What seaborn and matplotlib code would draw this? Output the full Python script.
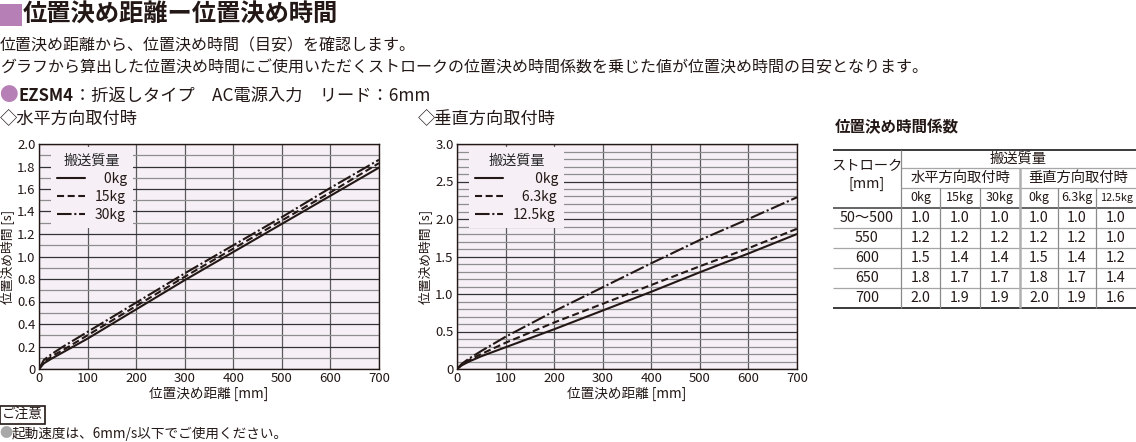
import matplotlib
matplotlib.use('Agg')
import matplotlib.pyplot as plt
from matplotlib.patches import Rectangle
from matplotlib.ticker import MultipleLocator, FuncFormatter
import seaborn as sns
import pandas as pd

# positioning distance [mm]
distance = [0, 10, 25, 50, 100, 200, 300, 400, 500, 600, 700]

# horizontal mounting, positioning time [s]
horiz_labels = ['0kg', '15kg', '30kg']
horiz_0kg = [0, 0.05, 0.09, 0.15, 0.27, 0.53, 0.79, 1.04, 1.29, 1.54, 1.79]
horiz_15kg = [0, 0.06, 0.11, 0.17, 0.30, 0.56, 0.82, 1.07, 1.32, 1.57, 1.83]
horiz_30kg = [0, 0.08, 0.13, 0.20, 0.33, 0.59, 0.85, 1.10, 1.35, 1.61, 1.86]

# vertical mounting, positioning time [s]
vert_labels = ['0kg', '6.3kg', '12.5kg']
vert_0kg = [0, 0.05, 0.10, 0.17, 0.29, 0.53, 0.78, 1.03, 1.29, 1.54, 1.80]
vert_63kg = [0, 0.06, 0.12, 0.20, 0.35, 0.62, 0.87, 1.12, 1.37, 1.61, 1.87]
vert_125kg = [0, 0.07, 0.14, 0.24, 0.43, 0.77, 1.09, 1.41, 1.72, 2.00, 2.29]

# positioning time coefficient table
strokes = ['50～500', '550', '600', '650', '700']
coef_cols = ['0kg', '15kg', '30kg', '0kg', '6.3kg', '12.5kg']
coef_h0 = [1.0, 1.2, 1.5, 1.8, 2.0]
coef_h15 = [1.0, 1.2, 1.4, 1.7, 1.9]
coef_h30 = [1.0, 1.2, 1.4, 1.7, 1.9]
coef_v0 = [1.0, 1.2, 1.5, 1.8, 2.0]
coef_v63 = [1.0, 1.2, 1.4, 1.7, 1.9]
coef_v125 = [1.0, 1.0, 1.2, 1.4, 1.6]

sns.set_style('white')
plt.rcParams['font.family'] = ['Noto Sans CJK JP', 'DejaVu Sans']

W, H = 1136, 442
INK = '#231815'
PURPLE = '#b67fb5'
AXBG = '#f6f0f6'
styles = ['-', (0, (3.4, 1.7)), (0, (7, 1.3, 1, 1.3))]

fig = plt.figure(figsize=(W / 100, H / 100), dpi=100)

# text layer in pixel coordinates
bg = fig.add_axes([0, 0, 1, 1])
bg.set_xlim(0, W)
bg.set_ylim(H, 0)
bg.axis('off')

bg.add_patch(Rectangle((0, 4), 22, 22, color=PURPLE, lw=0))
bg.text(23, 15, '位置決め距離ー位置決め時間', fontsize=17.5, fontweight='bold',
        va='center', color=INK)
bg.text(0, 46, '位置決め距離から、位置決め時間（目安）を確認します。',
        fontsize=11.5, va='center', color=INK)
bg.text(0, 68, 'グラフから算出した位置決め時間にご使用いただくストロークの'
        '位置決め時間係数を乗じた値が位置決め時間の目安となります。',
        fontsize=11.5, va='center', color=INK)
bg.text(-1, 96, '●', fontsize=13.5, va='center', color=PURPLE)
bg.text(19, 96, 'EZSM4', fontsize=12, fontweight='bold', va='center', color=INK)
bg.text(74, 96, '：折返しタイプ　AC電源入力　リード：6mm', fontsize=12.4,
        va='center', color=INK)
bg.text(0, 119, '◇水平方向取付時', fontsize=12.4, va='center', color=INK)
bg.text(418, 119, '◇垂直方向取付時', fontsize=12.4, va='center', color=INK)

bg.text(2, 415, 'ご注意', fontsize=9.8, va='center', color=INK,
        bbox=dict(boxstyle='square,pad=0.12', fc='white', ec=INK, lw=1.2))
bg.text(-1, 434, '●', fontsize=9.5, va='center', color='#a8a8a8')
bg.text(12, 434, '起動速度は、6mm/s以下でご使用ください。', fontsize=9.8,
        va='center', color=INK)


def draw_chart(rect, series, labels, ymax, ymajor):
    ax = fig.add_axes(rect)
    ax.set_facecolor(AXBG)
    ax.set_axisbelow(True)
    df = pd.DataFrame({'distance': distance * len(series),
                       'time': [v for s in series for v in s],
                       'mass': [lab for lab in labels for _ in distance]})
    for lab, ls in zip(labels, styles):
        sub = df[df['mass'] == lab]
        sns.lineplot(data=sub, x='distance', y='time', ax=ax, color=INK,
                     lw=1.5, linestyle=ls, label=lab)
    ax.set_xlim(0, 700)
    ax.set_ylim(0, ymax)
    ax.xaxis.set_major_locator(MultipleLocator(100))
    ax.yaxis.set_major_locator(MultipleLocator(ymajor))
    ax.yaxis.set_minor_locator(MultipleLocator(0.1))
    ax.yaxis.set_major_formatter(FuncFormatter(lambda v, p: '0' if v == 0 else f'{v:.1f}'))
    ax.grid(which='major', axis='y', color='#333333', lw=0.9)
    ax.grid(which='minor', axis='y', color='#8e8e8e', lw=0.9)
    ax.grid(which='major', axis='x', color='#5a5a5a', lw=0.9)
    ax.tick_params(which='both', length=0, labelsize=9.5, colors=INK, pad=2.5)
    for sp in ax.spines.values():
        sp.set_color(INK)
        sp.set_linewidth(1.0)
    ax.set_xlabel('位置決め距離 [mm]', fontsize=9.8, color=INK, labelpad=1)
    ax.set_ylabel('位置決め時間 [s]', fontsize=9.2, color=INK)
    ax.yaxis.set_label_coords(-0.071, 0.5)

    # right-align labels with figure spaces
    width = max(len(l) for l in labels)
    shown = []
    for l in labels:
        pad = width - len(l)
        if '.' in labels[-1] and '.' not in l and pad > 0:
            shown.append('\u2007' * (pad - 1) + '\u2008' + l)
        else:
            shown.append('\u2007' * pad + l)
    handles = ax.get_legend_handles_labels()[0]
    leg = ax.legend(handles, shown, title='搬送質量', loc='upper left',
                    bbox_to_anchor=(0.035, 0.985), borderaxespad=0,
                    fontsize=10, title_fontsize=10.2, frameon=True,
                    facecolor=AXBG, edgecolor='none', framealpha=1,
                    fancybox=False, handlelength=2.0, handletextpad=0.7,
                    labelspacing=0.3, borderpad=0.45)
    for t in leg.get_texts():
        t.set_color(INK)
    return ax


draw_chart([39 / W, 73 / H, 340 / W, 225 / H],
           [horiz_0kg, horiz_15kg, horiz_30kg], horiz_labels, 2.0, 0.2)
draw_chart([457 / W, 73 / H, 340 / W, 225 / H],
           [vert_0kg, vert_63kg, vert_125kg], vert_labels, 3.0, 0.5)

# coefficient table
bg.text(835, 127, '位置決め時間係数', fontsize=11.2, fontweight='bold',
        va='center', color=INK)
col_x = [833, 901, 940, 980, 1020, 1058, 1096, 1136]
row_y = [150, 168, 188, 208, 228, 248, 268, 288, 308]
DARK = '#3a3a3a'
GRAY = '#a6a6a6'
bg.hlines([row_y[0], row_y[-1]], col_x[0], col_x[-1], color=DARK, lw=1.4)
bg.hlines(row_y[3], col_x[0], col_x[-1], color=DARK, lw=1.1)
bg.hlines(row_y[1:3], col_x[1], col_x[-1], color=GRAY, lw=0.9)
bg.hlines(row_y[4:-1], col_x[0], col_x[-1], color=GRAY, lw=0.9)
bg.vlines(col_x[1], row_y[0], row_y[-1], color='#8a8a8a', lw=0.9)
bg.vlines(col_x[4], row_y[1], row_y[-1], color='#b0b0b0', lw=1.8)
bg.vlines([col_x[2], col_x[3], col_x[5], col_x[6]], row_y[2], row_y[-1],
          color='#8a8a8a', lw=0.9)

tkw = dict(ha='center', va='center', color=INK, fontsize=10.3)
bg.text(867, 166, 'ストローク', **tkw)
bg.text(867, 184, '[mm]', **tkw)
bg.text((col_x[1] + col_x[-1]) / 2, 159, '搬送質量', **tkw)
bg.text((col_x[1] + col_x[4]) / 2, 178, '水平方向取付時', **tkw)
bg.text((col_x[4] + col_x[-1]) / 2, 178, '垂直方向取付時', **tkw)
for i, name in enumerate(coef_cols):
    cx = (col_x[i + 1] + col_x[i + 2]) / 2
    bg.text(cx, 198, name, ha='center', va='center', color=INK,
            fontsize=7.8 if name == '12.5kg' else 9)

columns = [coef_h0, coef_h15, coef_h30, coef_v0, coef_v63, coef_v125]
for r, s in enumerate(strokes):
    cy = (row_y[r + 3] + row_y[r + 4]) / 2
    bg.text((col_x[0] + col_x[1]) / 2, cy, s, **tkw)
    for c, col in enumerate(columns):
        bg.text((col_x[c + 1] + col_x[c + 2]) / 2, cy, f'{col[r]:.1f}', **tkw)

fig.savefig('out.png', dpi=100)
